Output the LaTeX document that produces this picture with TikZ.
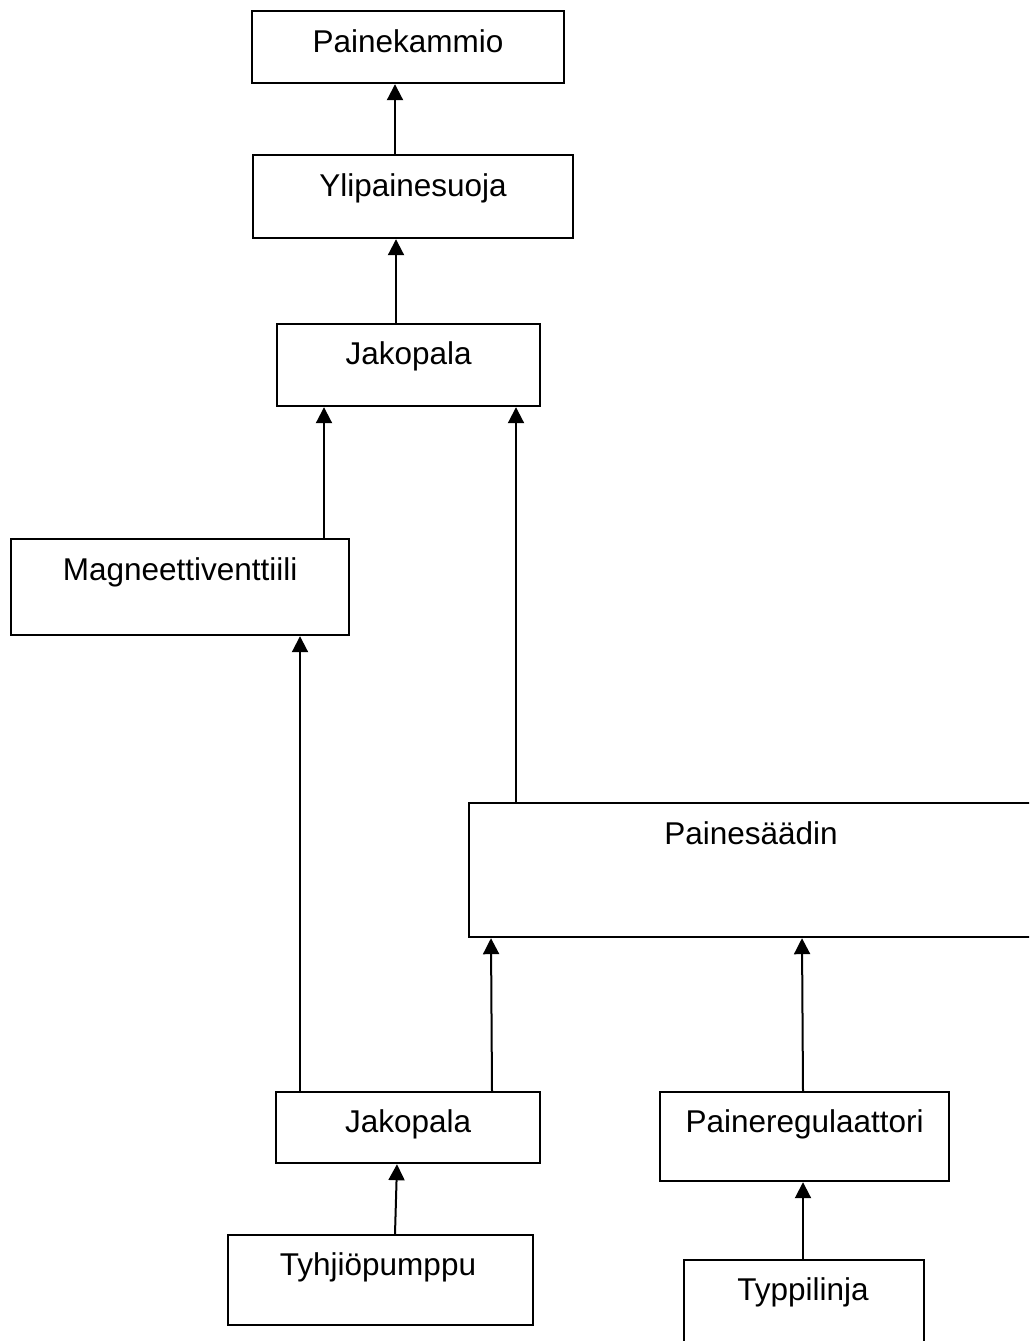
\documentclass[tikz,border=0pt]{standalone}
\usepackage{fontspec}
\setmainfont{Liberation Sans}
\usetikzlibrary{arrows.meta}
\begin{document}
\begin{tikzpicture}[x=1pt,y=-1pt,
  box/.style={draw=black, line width=2.2pt, fill=white, inner sep=0pt, anchor=north west, rectangle},
  lbl/.style={anchor=base, inner sep=0pt, font=\fontsize{31.5pt}{36pt}\selectfont},
  flow/.style={line width=2pt, -{Triangle[width=16pt,length=16pt]}}]
\useasboundingbox (0,0) rectangle (1029,1341);
\clip (0,0) rectangle (1029,1341);
\fill[white] (0,0) rectangle (1029,1341);

% component boxes: top-left corner, width, height
\node[box, minimum width=312pt, minimum height=72pt]  (pk) at (251,10)   {};
\node[box, minimum width=320pt, minimum height=83pt]  (yl) at (252,154)  {};
\node[box, minimum width=263pt, minimum height=82pt]  (j1) at (276,323)  {};
\node[box, minimum width=338pt, minimum height=96pt]  (mv) at (10,538)   {};
\node[box, minimum width=580pt, minimum height=134pt] (ps) at (468,802)  {};
\node[box, minimum width=264pt, minimum height=71pt]  (j2) at (275,1091) {};
\node[box, minimum width=289pt, minimum height=89pt]  (pr) at (659,1091) {};
\node[box, minimum width=305pt, minimum height=90pt]  (tp) at (227,1234) {};
\node[box, minimum width=240pt, minimum height=110pt] (ty) at (683,1259) {};

% labels, baseline about 42 units below each box top
\node[lbl] (tpk) at ([yshift=-42pt]pk.north) {Painekammio};
\node[lbl] (tyl) at ([yshift=-42pt]yl.north) {Ylipainesuoja};
\node[lbl] (tj1) at ([yshift=-41pt]j1.north) {Jakopala};
\node[lbl] (tmv) at ([yshift=-42pt]mv.north) {Magneettiventtiili};
\node[lbl] (tps) at ([yshift=-42pt]ps.north -| 751,0) {Painesäädin};
\node[lbl] (tj2) at ([yshift=-41pt]j2.north) {Jakopala};
\node[lbl] (tpr) at ([yshift=-41pt]pr.north) {Paineregulaattori};
\node[lbl] (ttp) at ([yshift=-41pt]tp.north -| 378,0) {Tyhjiöpumppu};
\node[lbl] (tty) at ([yshift=-41pt]ty.north -| 803,0) {Typpilinja};

% flow connections
\draw[flow] (yl.north -| 395,0) -- (pk.south -| 395,0);
\draw[flow] (j1.north -| 396,0) -- (yl.south -| 396,0);
\draw[flow] (mv.north -| 324,0) -- (j1.south -| 324,0);
\draw[flow] (ps.north -| 516,0) -- (j1.south -| 516,0);
\draw[flow] (j2.north -| 300,0) -- (mv.south -| 300,0);
\draw[flow] (j2.north -| 492,0) -- (ps.south -| 491,0);
\draw[flow] (pr.north -| 803,0) -- (ps.south -| 802,0);
\draw[flow] (tp.north -| 395,0) -- (j2.south -| 397,0);
\draw[flow] (ty.north -| 803,0) -- (pr.south -| 803,0);
\end{tikzpicture}
\end{document}
